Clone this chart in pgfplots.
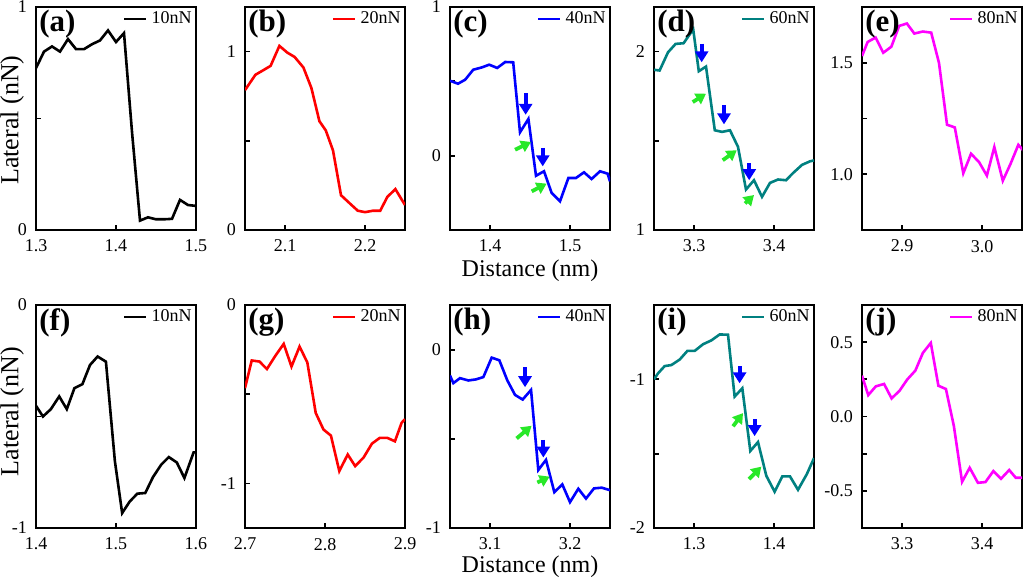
\documentclass[border=0pt]{standalone}
\usepackage{pgfplots}
\pgfplotsset{compat=1.18}
\usepackage{fontspec}
\setmainfont{Liberation Serif}
\usetikzlibrary{arrows.meta}
\definecolor{dteal}{RGB}{0,128,128}
\definecolor{agreen}{RGB}{40,232,40}
\definecolor{pred}{RGB}{255,0,0}
\definecolor{pblue}{RGB}{0,0,255}
\definecolor{pmag}{RGB}{255,0,255}
\pgfplotsset{
  pan/.style={
    scale only axis, width=80pt, height=111.5pt,
    anchor=south west,
    axis line style={line width=1.3pt},
    tick style={line width=0.9pt, black},
    major tick length=2.5pt,
    xtick pos=bottom, ytick pos=left,
    tick label style={font=\fontsize{9}{10}\selectfont},
    xticklabel style={yshift=-1.5pt},
    yticklabel style={xshift=-1pt},
    legend style={at={(1,1)}, anchor=north east, draw=none, fill=none,
      font=\fontsize{9}{10}\selectfont, inner sep=0pt},
    legend image code/.code={\draw[##1] (0pt,0pt) -- (11pt,0pt);},
    every axis plot/.append style={line width=1.3pt},
  },
}
\tikzset{
  barrow/.style={draw=pblue, line width=2pt, -{Triangle[width=6.5pt,length=5.5pt]}},
  garrow/.style={draw=agreen, line width=1.9pt, -{Triangle[width=6pt,length=5pt]}},
  plab/.style={anchor=north west, inner sep=0pt, xshift=1.5pt, yshift=-1.5pt,
    font=\bfseries\fontsize{15.5}{16}\selectfont},
}
\begin{document}
\begin{tikzpicture}
\useasboundingbox (0,0) rectangle (512pt,289.5pt);
% (a)
\begin{axis}[pan, at={(18pt,174.5pt)},
  xmin=1.3, xmax=1.5, ymin=0, ymax=1,
  xtick={1.3,1.4,1.5}, xticklabels={1.3,1.4,1.5},
  ytick={0,0.5,1}, yticklabels={0,,1},
  ylabel={Lateral (nN)},
  ylabel style={at={(axis description cs:-0.15,0.493)}, anchor=center, font=\fontsize{13}{15}\selectfont}]
\addplot[black] coordinates {(1.30,0.726)(1.31,0.80)(1.32,0.823)(1.33,0.80)(1.34,0.856)(1.35,0.811)(1.36,0.811)(1.37,0.833)(1.38,0.85)(1.39,0.895)(1.40,0.843)(1.41,0.883)(1.42,0.44)(1.43,0.042)(1.44,0.057)(1.45,0.048)(1.46,0.048)(1.47,0.05)(1.48,0.135)(1.49,0.112)(1.50,0.108)};
\addlegendentry{10nN}
\node[plab] at (rel axis cs:0,1) {(a)};
\end{axis}
% (b)
\begin{axis}[pan, at={(122.5pt,174.5pt)},
  xmin=2.05, xmax=2.25, ymin=0, ymax=1.25,
  xtick={2.1,2.2}, xticklabels={2.1,2.2},
  ytick={0,0.5,1}, yticklabels={0,,1}]
\addplot[pred] coordinates {(2.050,0.784)(2.063,0.870)(2.073,0.896)(2.082,0.920)(2.093,1.032)(2.103,0.994)(2.112,0.970)(2.123,0.911)(2.133,0.796)(2.143,0.610)(2.151,0.558)(2.160,0.446)(2.170,0.195)(2.181,0.149)(2.191,0.108)(2.200,0.100)(2.210,0.108)(2.219,0.108)(2.228,0.186)(2.238,0.229)(2.25,0.14)};
\addlegendentry{20nN}
\node[plab] at (rel axis cs:0,1) {(b)};
\end{axis}
% (c)
\begin{axis}[pan, at={(225pt,174.5pt)},
  xmin=1.35, xmax=1.55, ymin=-0.5, ymax=1,
  xtick={1.4,1.5}, xticklabels={1.4,1.5},
  ytick={-0.5,0,0.5,1}, yticklabels={,0,,1},
  xlabel={Distance (nm)},
  xlabel style={at={(axis description cs:0.5,-0.182)}, anchor=center, font=\fontsize{12}{14}\selectfont}]
\addplot[pblue] coordinates {(1.350,0.504)(1.360,0.484)(1.369,0.511)(1.379,0.578)(1.390,0.594)(1.399,0.612)(1.409,0.590)(1.419,0.630)(1.429,0.628)(1.4375,0.157)(1.448,0.247)(1.4575,-0.135)(1.4675,-0.105)(1.477,-0.25)(1.4875,-0.307)(1.498,-0.150)(1.5075,-0.150)(1.5175,-0.112)(1.527,-0.157)(1.5375,-0.105)(1.547,-0.121)(1.55,-0.173)};
\addlegendentry{40nN}
\draw[barrow] (axis cs:1.4446,0.421) -- (axis cs:1.4446,0.275);
\draw[barrow] (axis cs:1.4659,0.052) -- (axis cs:1.4659,-0.072);
\draw[garrow] (axis cs:1.4313,0.040) -- (axis cs:1.4513,0.092);
\draw[garrow] (axis cs:1.4521,-0.240) -- (axis cs:1.4708,-0.188);
\node[plab] at (rel axis cs:0,1) {(c)};
\end{axis}
% (d)
\begin{axis}[pan, at={(327pt,174.5pt)},
  xmin=3.25, xmax=3.45, ymin=1, ymax=2.25,
  xtick={3.3,3.4}, xticklabels={3.3,3.4},
  ytick={1,1.5,2}, yticklabels={1,,2}]
\addplot[dteal] coordinates {(3.25,1.898)(3.257,1.894)(3.2675,1.996)(3.277,2.043)(3.287,2.047)(3.299,2.125)(3.306,1.890)(3.315,1.916)(3.326,1.559)(3.335,1.550)(3.345,1.559)(3.355,1.466)(3.365,1.227)(3.375,1.279)(3.385,1.186)(3.395,1.264)(3.405,1.283)(3.415,1.279)(3.424,1.32)(3.435,1.365)(3.445,1.385)(3.45,1.39)};
\addlegendentry{60nN}
\draw[barrow] (axis cs:3.3096,2.045) -- (axis cs:3.3096,1.94);
\draw[barrow] (axis cs:3.3375,1.698) -- (axis cs:3.3375,1.592);
\draw[barrow] (axis cs:3.369,1.373) -- (axis cs:3.369,1.279);
\draw[garrow] (axis cs:3.2984,1.717) -- (axis cs:3.315,1.764);
\draw[garrow] (axis cs:3.3359,1.391) -- (axis cs:3.3534,1.447);
\draw[garrow] (axis cs:3.3638,1.149) -- (axis cs:3.375,1.196);
\node[plab] at (rel axis cs:0,1) {(d)};
\end{axis}
% (e)
\begin{axis}[pan, at={(431pt,174.5pt)},
  xmin=2.85, xmax=3.05, ymin=0.75, ymax=1.75,
  xtick={2.9,3.0}, xticklabels={2.9,3.0},
  ytick={1,1.25,1.5}, yticklabels={1.0,,1.5}]
\addplot[pmag] coordinates {(2.85,1.530)(2.857,1.593)(2.867,1.613)(2.8766,1.545)(2.8867,1.572)(2.8964,1.665)(2.9061,1.676)(2.9154,1.631)(2.926,1.640)(2.9365,1.635)(2.9462,1.5)(2.9563,1.222)(2.966,1.210)(2.9766,1.0045)(2.9863,1.092)(2.9964,1.054)(3.0061,0.994)(3.0154,1.122)(3.026,0.971)(3.0357,1.047)(3.0454,1.132)(3.0534,1.099)};
\addlegendentry{80nN}
\node[plab] at (rel axis cs:0,1) {(e)};
\end{axis}
% (f)
\begin{axis}[pan, at={(18pt,25.5pt)},
  xmin=1.4, xmax=1.6, ymin=-1, ymax=0,
  xtick={1.4,1.5,1.6}, xticklabels={1.4,1.5,1.6},
  ytick={-1,-0.5,0}, yticklabels={-1,,0},
  ylabel={Lateral (nN)},
  ylabel style={at={(axis description cs:-0.15,0.522)}, anchor=center, font=\fontsize{13}{15}\selectfont}]
\addplot[black] coordinates {(1.40,-0.452)(1.4087,-0.5)(1.4186,-0.467)(1.429,-0.410)(1.4385,-0.467)(1.448,-0.373)(1.458,-0.355)(1.4675,-0.269)(1.477,-0.231)(1.4874,-0.254)(1.4986,-0.70)(1.5077,-0.933)(1.5172,-0.881)(1.5267,-0.846)(1.5366,-0.843)(1.5462,-0.772)(1.5565,-0.716)(1.566,-0.682)(1.576,-0.706)(1.5855,-0.776)(1.597,-0.661)(1.60,-0.661)};
\addlegendentry{10nN}
\node[plab] at (rel axis cs:0,1) {(f)};
\end{axis}
% (g)
\begin{axis}[pan, at={(122.5pt,25.5pt)},
  xmin=2.7, xmax=2.9, ymin=-1.25, ymax=0,
  xtick={2.7,2.8,2.9}, xticklabels={2.7,2.8,2.9},
  ytick={-1,-0.5,0}, yticklabels={-1,,0}]
\addplot[pred] coordinates {(2.70,-0.466)(2.7084,-0.311)(2.7181,-0.317)(2.7274,-0.359)(2.7379,-0.285)(2.7484,-0.218)(2.7581,-0.345)(2.7682,-0.233)(2.7779,-0.322)(2.7884,-0.605)(2.7981,-0.698)(2.8074,-0.732)(2.8179,-0.931)(2.8284,-0.838)(2.8377,-0.903)(2.8482,-0.855)(2.8587,-0.777)(2.8684,-0.745)(2.878,-0.745)(2.8874,-0.764)(2.8958,-0.66)(2.9,-0.64)};
\addlegendentry{20nN}
\node[plab] at (rel axis cs:0,1) {(g)};
\end{axis}
% (h)
\begin{axis}[pan, at={(225pt,25.5pt)},
  xmin=3.05, xmax=3.25, ymin=-1, ymax=0.25,
  xtick={3.1,3.2}, xticklabels={3.1,3.2},
  ytick={-1,-0.5,0}, yticklabels={-1,,0},
  xlabel={Distance (nm)},
  xlabel style={at={(axis description cs:0.5,-0.172)}, anchor=center, font=\fontsize{12}{14}\selectfont}]
\addplot[pblue] coordinates {(3.05,-0.145)(3.0542,-0.188)(3.0625,-0.160)(3.0729,-0.173)(3.0825,-0.167)(3.0917,-0.154)(3.1021,-0.045)(3.1117,-0.060)(3.1217,-0.173)(3.1313,-0.254)(3.1408,-0.280)(3.1513,-0.226)(3.1604,-0.675)(3.17,-0.618)(3.1804,-0.799)(3.1904,-0.756)(3.20,-0.855)(3.2104,-0.780)(3.22,-0.835)(3.23,-0.778)(3.2396,-0.774)(3.25,-0.788)};
\addlegendentry{40nN}
\draw[barrow] (axis cs:3.1438,-0.098) -- (axis cs:3.1438,-0.211);
\draw[barrow] (axis cs:3.1667,-0.506) -- (axis cs:3.1667,-0.605);
\draw[garrow] (axis cs:3.1333,-0.498) -- (axis cs:3.152,-0.427);
\draw[garrow] (axis cs:3.1592,-0.745) -- (axis cs:3.1746,-0.712);
\node[plab] at (rel axis cs:0,1) {(h)};
\end{axis}
% (i)
\begin{axis}[pan, at={(327pt,25.5pt)},
  xmin=1.25, xmax=1.45, ymin=-2, ymax=-0.5,
  xtick={1.3,1.4}, xticklabels={1.3,1.4},
  ytick={-2,-1.5,-1}, yticklabels={-2,,-1}]
\addplot[dteal] coordinates {(1.25,-1.0)(1.255,-0.96)(1.2633,-0.911)(1.2717,-0.904)(1.2821,-0.867)(1.2917,-0.809)(1.3008,-0.809)(1.3113,-0.764)(1.3217,-0.738)(1.3321,-0.698)(1.3425,-0.70)(1.3508,-1.116)(1.3604,-1.06)(1.3704,-1.482)(1.38,-1.422)(1.3904,-1.649)(1.4008,-1.756)(1.4104,-1.653)(1.42,-1.653)(1.430,-1.743)(1.441,-1.638)(1.45,-1.53)};
\addlegendentry{60nN}
\draw[barrow] (axis cs:1.357,-0.911) -- (axis cs:1.357,-1.027);
\draw[barrow] (axis cs:1.3758,-1.267) -- (axis cs:1.3758,-1.382);
\draw[garrow] (axis cs:1.3488,-1.316) -- (axis cs:1.3613,-1.227);
\draw[garrow] (axis cs:1.3688,-1.671) -- (axis cs:1.3842,-1.587);
\node[plab] at (rel axis cs:0,1) {(i)};
\end{axis}
% (j)
\begin{axis}[pan, at={(431pt,25.5pt)},
  xmin=3.25, xmax=3.45, ymin=-0.75, ymax=0.75,
  xtick={3.3,3.4}, xticklabels={3.3,3.4},
  ytick={-0.5,-0.25,0,0.25,0.5}, yticklabels={-0.5,,0.0,,0.5}]
\addplot[pmag] coordinates {(3.25,0.275)(3.2578,0.144)(3.2673,0.203)(3.2776,0.219)(3.287,0.122)(3.2969,0.173)(3.3064,0.248)(3.3167,0.309)(3.3261,0.428)(3.336,0.495)(3.3455,0.207)(3.3549,0.185)(3.3648,-0.063)(3.3751,-0.439)(3.3846,-0.345)(3.3949,-0.446)(3.4043,-0.441)(3.4142,-0.367)(3.4237,-0.419)(3.434,-0.360)(3.4422,-0.412)(3.45,-0.412)};
\addlegendentry{80nN}
\node[plab] at (rel axis cs:0,1) {(j)};
\end{axis}
\end{tikzpicture}
\end{document}
